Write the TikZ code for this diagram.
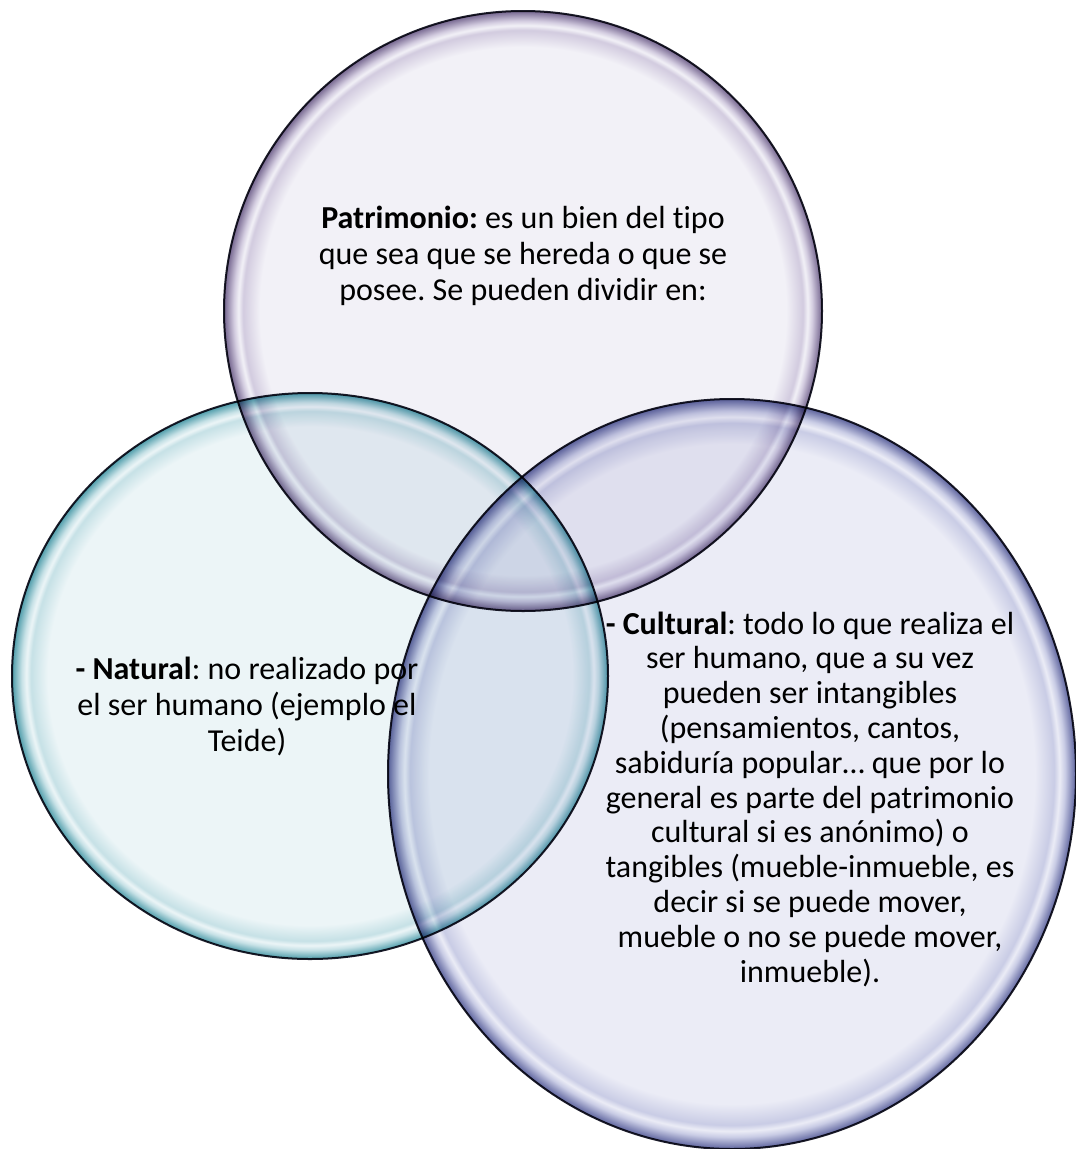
\documentclass[tikz,border=0pt]{standalone}
\usepackage{fontspec}
\setmainfont{Carlito}[Ligatures=NoCommon]
\usetikzlibrary{shapes.geometric, positioning}

\definecolor{patin}{HTML}{F2F1F7}
\definecolor{patmid}{HTML}{D2CBDF}
\definecolor{patrim}{HTML}{75668F}
\definecolor{natin}{HTML}{ECF5F7}
\definecolor{natmid}{HTML}{C6E1E6}
\definecolor{natrim}{HTML}{4E9CAA}
\definecolor{culin}{HTML}{EBECF6}
\definecolor{culmid}{HTML}{C9CCE5}
\definecolor{culrim}{HTML}{5E649E}
\definecolor{rimline}{HTML}{1C1C2A}

\pgfdeclareradialshading{patbubble}{\pgfpoint{0bp}{0bp}}{color(0bp)=(patin); color(22bp)=(patin); color(23.4bp)=(patmid); color(23.8bp)=(patin); color(24.2bp)=(patmid); color(25bp)=(patrim); color(50bp)=(patrim)}
\pgfdeclareradialshading{natbubble}{\pgfpoint{0bp}{0bp}}{color(0bp)=(natin); color(22bp)=(natin); color(23.4bp)=(natmid); color(23.8bp)=(natin); color(24.2bp)=(natmid); color(25bp)=(natrim); color(50bp)=(natrim)}
\pgfdeclareradialshading{culbubble}{\pgfpoint{0bp}{0bp}}{color(0bp)=(culin); color(22bp)=(culin); color(23.4bp)=(culmid); color(23.8bp)=(culin); color(24.2bp)=(culmid); color(25bp)=(culrim); color(50bp)=(culrim)}

\begin{document}
\frenchspacing
\begin{tikzpicture}[
  x=1pt, y=-1pt,
  bubble/.style={ellipse, draw=rimline, line width=2pt, inner sep=0pt,
    outer sep=0pt, shade},
  txt/.style={align=center, inner sep=0pt,
    font=\fontsize{32}{36}\selectfont},
  ctxt/.style={align=center, inner sep=0pt,
    font=\fontsize{32}{34.8}\selectfont}
]
\fill[white] (0,0) rectangle (1076,1149);
\useasboundingbox (0,0) rectangle (1076,1149);

% the three bubbles
\begin{scope}[blend mode=multiply]
\node[bubble, shading=patbubble, minimum width=598pt, minimum height=600pt] (patri) at (523,311) {};
\node[bubble, shading=natbubble, minimum width=596pt, minimum height=566pt] (natur) at (310,676) {};
\node[bubble, shading=culbubble, minimum width=688pt, minimum height=750pt] (cultu) at (732,774) {};
\end{scope}

\node[txt] (patritxt) at (523,256) {\textbf{Patrimonio:} es un bien del tipo\\que sea que se hereda o que se\\posee. Se pueden dividir en:};
\node[txt] (naturtxt) at (247,706) {\textbf{- Natural}: no realizado por\\el ser humano (ejemplo el\\Teide)};
\node[ctxt] (cultutxt) at (810,799) {\textbf{- Cultural}: todo lo que realiza el\\ser humano, que a su vez\\pueden ser intangibles\\(pensamientos, cantos,\\sabiduría popular… que por lo\\general es parte del patrimonio\\cultural si es anónimo) o\\tangibles (mueble-inmueble, es\\decir si se puede mover,\\mueble o no se puede mover,\\inmueble).};
\end{tikzpicture}
\end{document}
